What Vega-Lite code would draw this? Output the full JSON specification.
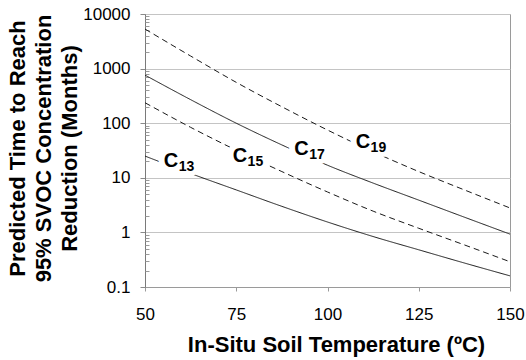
{
  "$schema": "https://vega.github.io/schema/vega-lite/v6.json",
  "autosize": {"type": "none"},
  "padding": {"left": 145, "top": 14, "right": 16, "bottom": 73},
  "width": 365,
  "height": 273,
  "background": "white",
  "config": {
    "view": {"stroke": "#9a9a9a", "strokeWidth": 1},
    "font": "Liberation Sans"
  },
  "datasets": {
    "curves": [
      {"series": "C13", "x": 50, "y": 25},
      {"series": "C13", "x": 62.5, "y": 12},
      {"series": "C13", "x": 75, "y": 6.0},
      {"series": "C13", "x": 87.5, "y": 3.0},
      {"series": "C13", "x": 100, "y": 1.55},
      {"series": "C13", "x": 112.5, "y": 0.84},
      {"series": "C13", "x": 125, "y": 0.48},
      {"series": "C13", "x": 137.5, "y": 0.275},
      {"series": "C13", "x": 150, "y": 0.16},
      {"series": "C15", "x": 50, "y": 237},
      {"series": "C15", "x": 62.5, "y": 84},
      {"series": "C15", "x": 75, "y": 32},
      {"series": "C15", "x": 87.5, "y": 13},
      {"series": "C15", "x": 100, "y": 5.5},
      {"series": "C15", "x": 112.5, "y": 2.45},
      {"series": "C15", "x": 125, "y": 1.19},
      {"series": "C15", "x": 137.5, "y": 0.59},
      {"series": "C15", "x": 150, "y": 0.29},
      {"series": "C17", "x": 50, "y": 760},
      {"series": "C17", "x": 62.5, "y": 270},
      {"series": "C17", "x": 75, "y": 100},
      {"series": "C17", "x": 87.5, "y": 40},
      {"series": "C17", "x": 100, "y": 17},
      {"series": "C17", "x": 112.5, "y": 8},
      {"series": "C17", "x": 125, "y": 3.9},
      {"series": "C17", "x": 137.5, "y": 1.9},
      {"series": "C17", "x": 150, "y": 0.93},
      {"series": "C19", "x": 50, "y": 5300},
      {"series": "C19", "x": 62.5, "y": 1700},
      {"series": "C19", "x": 75, "y": 560},
      {"series": "C19", "x": 87.5, "y": 200},
      {"series": "C19", "x": 100, "y": 75},
      {"series": "C19", "x": 112.5, "y": 30},
      {"series": "C19", "x": 125, "y": 13},
      {"series": "C19", "x": 137.5, "y": 6.0},
      {"series": "C19", "x": 150, "y": 2.8}
    ],
    "labels": [
      {"series": "C13", "x": 57.1, "y": 20.3, "sub": "13"},
      {"series": "C15", "x": 76.0, "y": 25.6, "sub": "15"},
      {"series": "C17", "x": 92.9, "y": 33.6, "sub": "17"},
      {"series": "C19", "x": 109.7, "y": 44.4, "sub": "19"}
    ]
  },
  "resolve": {"axis": {"y": "independent"}},
  "layer": [
    {
      "data": {"name": "curves"},
      "mark": {"type": "line", "interpolate": "monotone", "strokeWidth": 1, "color": "#1a1a1a"},
      "encoding": {
        "x": {
          "field": "x",
          "type": "quantitative",
          "scale": {"domain": [50, 150], "nice": false, "zero": false},
          "axis": {
            "values": [50, 75, 100, 125, 150],
            "grid": false,
            "labelFlush": false,
            "title": "In-Situ Soil Temperature (ºC)",
            "titleFont": "Liberation Sans",
            "titleFontSize": 22,
            "titleFontWeight": "bold",
            "titleColor": "black",
            "titleBaseline": "alphabetic",
            "titleX": 191,
            "titleY": 64,
            "labelFont": "Liberation Sans",
            "labelFontSize": 17,
            "labelColor": "black",
            "labelPadding": 15,
            "tickSize": 4,
            "tickColor": "#9a9a9a",
            "domainColor": "#9a9a9a"
          }
        },
        "y": {
          "field": "y",
          "type": "quantitative",
          "scale": {"type": "log", "domain": [0.1, 10000], "nice": false},
          "axis": {
            "orient": "left",
            "values": [0.1, 1, 10, 100, 1000, 10000],
            "format": "~g",
            "grid": true,
            "gridColor": "#c4c4c4",
            "tickSize": 5,
            "tickColor": "#8a8a8a",
            "domainColor": "#7a7a7a",
            "labelFont": "Liberation Sans",
            "labelFontSize": 17,
            "labelColor": "black",
            "labelPadding": 10,
            "labelOverlap": false,
            "labelFlush": false,
            "title": ["Predicted Time to Reach", "95% SVOC Concentration", "Reduction (Months)"],
            "titleFont": "Liberation Sans",
            "titleFontSize": 22,
            "titleFontWeight": "bold",
            "titleColor": "black",
            "titleLineHeight": 26,
            "titleX": -116,
            "titleY": 134
          }
        },
        "detail": {"field": "series"},
        "strokeDash": {
          "field": "series",
          "type": "nominal",
          "scale": {"domain": ["C13", "C15", "C17", "C19"], "range": [[1, 0], [6, 4], [1, 0], [6, 4]]},
          "legend": null
        }
      }
    },
    {
      "data": {"name": "labels"},
      "encoding": {
        "x": {"field": "x", "type": "quantitative"},
        "y": {
          "field": "y",
          "type": "quantitative",
          "axis": {
            "orient": "left",
            "values": [0.2, 0.3, 0.4, 0.5, 0.6, 0.7, 0.8, 0.9, 2, 3, 4, 5, 6, 7, 8, 9, 20, 30, 40, 50, 60, 70, 80, 90, 200, 300, 400, 500, 600, 700, 800, 900, 2000, 3000, 4000, 5000, 6000, 7000, 8000, 9000],
            "labels": false,
            "domain": false,
            "grid": false,
            "title": null,
            "tickSize": -4,
            "tickColor": "#9a9a9a"
          }
        }
      },
      "layer": [
        {
          "mark": {"type": "text", "text": "C", "font": "Liberation Sans", "fontWeight": "bold", "fontSize": 20, "align": "center", "baseline": "middle", "stroke": "white", "strokeWidth": 12, "strokeJoin": "round", "fill": "white"}
        },
        {
          "mark": {"type": "text", "font": "Liberation Sans", "fontWeight": "bold", "fontSize": 14, "align": "center", "baseline": "middle", "dx": 15.5, "dy": 6, "stroke": "white", "strokeWidth": 10, "strokeJoin": "round", "fill": "white"},
          "encoding": {"text": {"field": "sub"}}
        },
        {
          "mark": {"type": "text", "text": "C", "font": "Liberation Sans", "fontWeight": "bold", "fontSize": 20, "align": "center", "baseline": "middle", "color": "black"}
        },
        {
          "mark": {"type": "text", "font": "Liberation Sans", "fontWeight": "bold", "fontSize": 14, "align": "center", "baseline": "middle", "dx": 15.5, "dy": 6, "color": "black"},
          "encoding": {"text": {"field": "sub"}}
        }
      ]
    }
  ]
}
